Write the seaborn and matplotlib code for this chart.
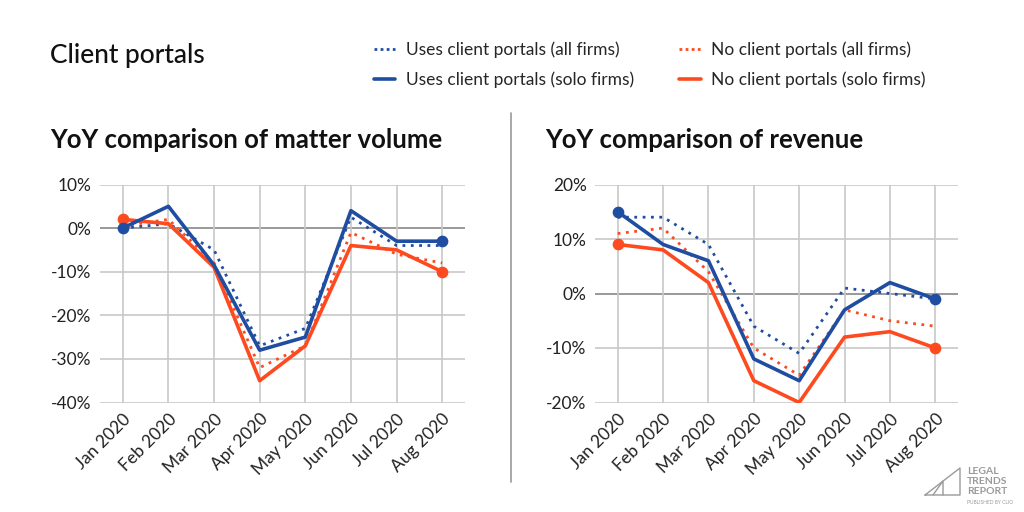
import numpy as np
import pandas as pd
import seaborn as sns
import matplotlib.pyplot as plt
from matplotlib.lines import Line2D

months = ['Jan 2020', 'Feb 2020', 'Mar 2020', 'Apr 2020',
          'May 2020', 'Jun 2020', 'Jul 2020', 'Aug 2020']

# matter volume, YoY %
vol_uses_all = [0, 1, -5, -27, -23, 2.5, -4, -4]
vol_uses_solo = [0, 5, -8.5, -28, -25, 4, -3, -3]
vol_no_all = [0.5, 2, -8, -32, -27, -1, -6, -8]
vol_no_solo = [2, 1, -9, -35, -27, -4, -5, -10]

# revenue, YoY %
rev_uses_all = [14, 14, 9, -6, -11, 1, 0, -1]
rev_uses_solo = [15, 9, 6, -12, -16, -3, 2, -1]
rev_no_all = [11, 12, 4, -10, -15, -3, -5, -6]
rev_no_solo = [9, 8, 2, -16, -20, -8, -7, -10]

BLUE = '#1f4ea1'
RED = '#fd4a1f'

sns.set_theme(style='white')
plt.rcParams['font.family'] = ['Lato', 'DejaVu Sans']

fig = plt.figure(figsize=(10.24, 5.12), dpi=100)
ax1 = fig.add_axes([100 / 1024, 1 - 402.5 / 512, 365 / 1024, 218 / 512])
ax2 = fig.add_axes([595 / 1024, 1 - 402.5 / 512, 363 / 1024, 218 / 512])

x = np.arange(len(months))


def draw(ax, uses_all, uses_solo, no_all, no_solo, ticks):
    sns.lineplot(x=x, y=uses_all, ax=ax, color=BLUE, lw=2, linestyle=(0, (1, 2)))
    sns.lineplot(x=x, y=no_all, ax=ax, color=RED, lw=2, linestyle=(0, (1, 2)))
    sns.lineplot(x=x, y=no_solo, ax=ax, color=RED, lw=2.6)
    sns.lineplot(x=x, y=uses_solo, ax=ax, color=BLUE, lw=2.6)
    ends = [0, len(x) - 1]
    ax.scatter(x[ends], np.array(no_solo)[ends], s=55, color=RED, zorder=5)
    ax.scatter(x[ends], np.array(uses_solo)[ends], s=55, color=BLUE, zorder=5)
    ax.set_xlim(-0.5, len(x) - 0.5)
    ax.set_ylim(ticks[0], ticks[-1])
    ax.set_yticks(ticks)
    ax.set_yticklabels([f'{t}%' for t in ticks], fontsize=12.5, color='#222222')
    ax.set_xticks(x)
    ax.set_xticklabels(months, rotation=45, ha='right', rotation_mode='anchor',
                       fontsize=12.5, color='#222222')
    ax.tick_params(axis='both', length=0, pad=6)
    for t in ticks:
        ax.axhline(t, color='#888888' if t == 0 else '#c8c8c8', lw=1.2, zorder=0)
    for xi in x:
        ax.axvline(xi, color='#c8c8c8', lw=1.2, zorder=0)
    for s in ax.spines.values():
        s.set_visible(False)
    ax.set_xlabel('')
    ax.set_ylabel('')


draw(ax1, vol_uses_all, vol_uses_solo, vol_no_all, vol_no_solo, [-40, -30, -20, -10, 0, 10])
draw(ax2, rev_uses_all, rev_uses_solo, rev_no_all, rev_no_solo, [-20, -10, 0, 10, 20])

fig.text(50 / 1024, 1 - 55 / 512, 'Client portals', fontsize=19, fontweight='medium',
         va='center', color='#111111')
fig.text(50 / 1024, 1 - 140 / 512, 'YoY comparison of matter volume', fontsize=18.5,
         fontweight='bold', va='center', color='#111111')
fig.text(545 / 1024, 1 - 140 / 512, 'YoY comparison of revenue', fontsize=18.5,
         fontweight='bold', va='center', color='#111111')

# divider
fig.add_artist(Line2D([511 / 1024, 511 / 1024], [1 - 113 / 512, 1 - 482 / 512],
                      color='#999999', lw=1.2))

handles = [
    Line2D([], [], color=BLUE, lw=2, linestyle=(0, (1, 1.2))),
    Line2D([], [], color=BLUE, lw=2.6),
    Line2D([], [], color=RED, lw=2, linestyle=(0, (1, 1.2))),
    Line2D([], [], color=RED, lw=2.6),
]
labels = ['Uses client portals (all firms)', 'Uses client portals (solo firms)',
          'No client portals (all firms)', 'No client portals (solo firms)']
fig.legend(handles, labels, loc='center left', bbox_to_anchor=(358 / 1024, 1 - 65 / 512),
           ncol=2, frameon=False, fontsize=12.5, handlelength=1.25, columnspacing=2.6,
           labelspacing=0.75, handletextpad=0.6)

# logo
logo = '#9a9a9a'
fig.add_artist(Line2D([925 / 1024, 960 / 1024, 960 / 1024, 925 / 1024],
                      [1 - 495 / 512, 1 - 468 / 512, 1 - 495 / 512, 1 - 495 / 512],
                      color=logo, lw=1))
fig.add_artist(Line2D([933 / 1024, 943 / 1024, 943 / 1024], [1 - 495 / 512, 1 - 481 / 512, 1 - 495 / 512],
                      color=logo, lw=1))
for i, word in enumerate(['LEGAL', 'TRENDS', 'REPORT']):
    fig.text(967 / 1024, 1 - (472 + 9.5 * i) / 512, word, fontsize=7.5, fontweight='bold',
             color=logo, va='center')
fig.text(967 / 1024, 1 - 503 / 512, 'PUBLISHED BY CLIO', fontsize=3.5, color=logo, va='center')

fig.savefig('out.png', dpi=100)
